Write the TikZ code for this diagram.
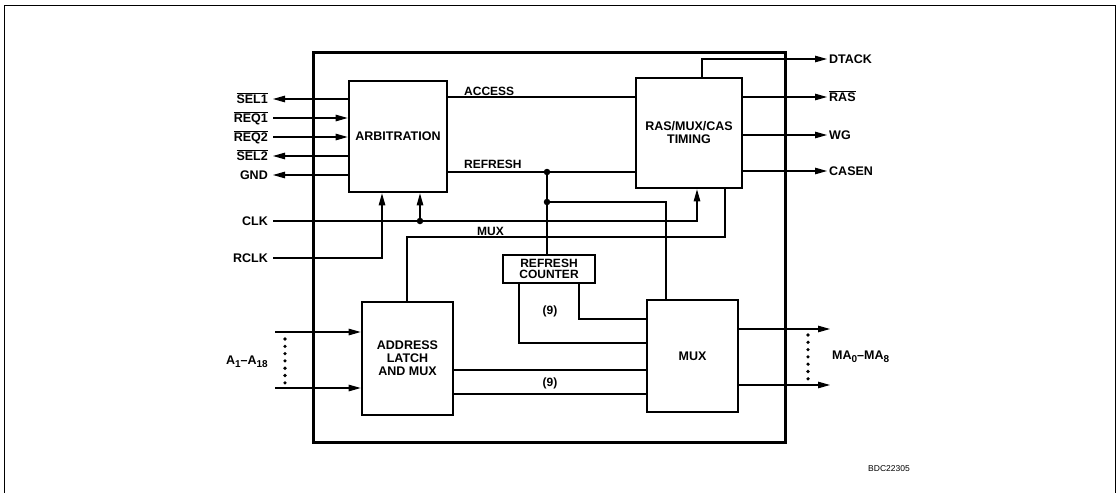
\documentclass[tikz,border=0pt]{standalone}
\usepackage{fontspec}
\setmainfont{Liberation Sans}
\usetikzlibrary{arrows.meta}
\begin{document}
\begin{tikzpicture}[x=1pt,y=-1pt,
  thin line/.style={line width=1.1pt},
  box/.style={draw,line width=2.6pt,inner sep=0pt,font=\bfseries\fontsize{12.5}{14}\selectfont,align=center},
  arr/.style={thin line,-{Triangle[length=12pt,width=6.5pt]}},
  sig/.style={inner sep=0pt,font=\bfseries\fontsize{12.5}{14}\selectfont,text height=9pt,text depth=0pt},
  lbl/.style={inner sep=0pt,font=\bfseries\fontsize{12}{13}\selectfont,text height=8.6pt,text depth=0pt},
  jdot/.style={circle,fill,inner sep=0pt,minimum size=6.5pt},
  sdot/.style={circle,fill,inner sep=0pt,minimum size=3.6pt}]
\useasboundingbox (0,0) rectangle (1120,493);
% outer frame
\draw[line width=1pt] (4,493) -- (4,5) -- (1115,5) -- (1115,493);
% chip
\node[draw,line width=3pt,minimum width=472pt,minimum height=390pt] (chip) at (549,247) {};
% blocks
\node[box,minimum width=98pt,minimum height=111pt] (arb) at (398,136.5) {ARBITRATION};
\node[box,minimum width=106pt,minimum height=110pt] (tim) at (689,133) {RAS/MUX/CAS\\[-1pt]TIMING};
\node[box,minimum width=91pt,minimum height=113pt] (addr) at (407.5,358.5) {ADDRESS\\[-1pt]LATCH\\[-1pt]AND MUX};
\node[box,minimum width=91pt,minimum height=112pt] (mux) at (692.5,356) {MUX};
\node[box,minimum width=92pt,minimum height=28pt,font=\bfseries\fontsize{12}{11.5}\selectfont] (rc) at (549,269) {REFRESH\\COUNTER};
% left signal ends
\coordinate (sel1) at (273,99);
\coordinate (req1) at (273,118);
\coordinate (req2) at (273,137);
\coordinate (sel2) at (273,156);
\coordinate (gnd) at (273,175);
\coordinate (clk) at (273,221);
\coordinate (rclk) at (273,258);
\coordinate (a1) at (275,332);
\coordinate (a2) at (275,388);
\node[sig,anchor=east] (lsel1) at (268,99) {$\overline{\mbox{SEL1}}$};
\node[sig,anchor=east] (lreq1) at (268,118) {$\overline{\mbox{REQ1}}$};
\node[sig,anchor=east] (lreq2) at (268,137) {$\overline{\mbox{REQ2}}$};
\node[sig,anchor=east] (lsel2) at (268,156) {$\overline{\mbox{SEL2}}$};
\node[sig,anchor=east] (lgnd) at (268,175) {GND};
\node[sig,anchor=east] (lclk) at (268,221) {CLK};
\node[sig,anchor=east] (lrclk) at (268,258) {RCLK};
\node[sig,anchor=east] (la) at (268,360) {A{\fontsize{10}{10}\selectfont\raisebox{-2.5pt}{1}}--A{\fontsize{10}{10}\selectfont\raisebox{-2.5pt}{18}}};
% arbitration I/O
\draw[arr] (arb.west |- sel1) -- (sel1);
\draw[arr] (req1) -- (arb.west |- req1);
\draw[arr] (req2) -- (arb.west |- req2);
\draw[arr] (arb.west |- sel2) -- (sel2);
\draw[arr] (arb.west |- gnd) -- (gnd);
% clocks
\coordinate (clkturn) at (697,221);
\node[jdot] (dclk) at (420,221) {};
\draw[arr] (clk) -- (clkturn) -- (tim.south -| clkturn);
\draw[arr] (dclk) -- (arb.south -| dclk);
\coordinate (rclkturn) at (382,258);
\draw[arr] (rclk) -- (rclkturn) -- (arb.south -| rclkturn);
% access / refresh
\coordinate (acc) at (0,97);
\coordinate (ref) at (0,172);
\draw[thin line] (arb.east |- acc) -- (tim.west |- acc);
\draw[thin line] (arb.east |- ref) -- (tim.west |- ref);
\node[lbl,anchor=base west] (lacc) at (464,95) {ACCESS};
\node[lbl,anchor=base west] (lref) at (464,168) {REFRESH};
\node[jdot] (d1) at (547,172) {};
\node[jdot] (d2) at (547,202) {};
\draw[thin line] (d1) -- (rc.north -| d1);
\coordinate (m1) at (666,202);
\draw[thin line] (d2) -- (m1) -- (mux.north -| m1);
% MUX control
\coordinate (mx1) at (725,237);
\coordinate (mx2) at (407,237);
\draw[thin line] (tim.south -| mx1) -- (mx1) -- (mx2) -- (addr.north -| mx2);
\node[lbl,anchor=base west] (lmux) at (477,235) {MUX};
% refresh counter to mux
\coordinate (r1) at (519,343);
\coordinate (r2) at (579,319);
\draw[thin line] (rc.south -| r1) -- (r1) -- (mux.west |- r1);
\draw[thin line] (rc.south -| r2) -- (r2) -- (mux.west |- r2);
\node[lbl] (n9a) at (550,310) {(9)};
% address latch to mux
\coordinate (b1) at (0,370);
\coordinate (b2) at (0,394);
\draw[thin line] (addr.east |- b1) -- (mux.west |- b1);
\draw[thin line] (addr.east |- b2) -- (mux.west |- b2);
\node[lbl] (n9b) at (550,382) {(9)};
% address inputs
\draw[arr] (a1) -- (addr.west |- a1);
\draw[arr] (a2) -- (addr.west |- a2);
\foreach \i in {0,...,6} \node[sdot] at (285,339+7.3*\i) {};
% mux outputs
\coordinate (o1) at (830,329);
\coordinate (o2) at (830,385);
\draw[arr] (mux.east |- o1) -- (o1);
\draw[arr] (mux.east |- o2) -- (o2);
\foreach \i in {0,...,6} \node[sdot] at (808,335+7.3*\i) {};
\node[sig,anchor=west] (lma) at (832,355) {MA{\fontsize{10}{10}\selectfont\raisebox{-2.5pt}{0}}--MA{\fontsize{10}{10}\selectfont\raisebox{-2.5pt}{8}}};
% timing outputs
\coordinate (dt) at (827,59);
\coordinate (ras) at (827,97);
\coordinate (wg) at (827,135);
\coordinate (casen) at (827,171);
\coordinate (dtturn) at (702,59);
\draw[arr] (tim.north -| dtturn) -- (dtturn) -- (dt);
\draw[arr] (tim.east |- ras) -- (ras);
\draw[arr] (tim.east |- wg) -- (wg);
\draw[arr] (tim.east |- casen) -- (casen);
\node[sig,anchor=west] (ldt) at (829,59) {DTACK};
\node[sig,anchor=west] (lras) at (829,97) {$\overline{\mbox{RAS}}$};
\node[sig,anchor=west] (lwg) at (829,135) {WG};
\node[sig,anchor=west] (lcasen) at (829,171) {CASEN};
% figure code
\node[inner sep=0pt,anchor=west,font=\fontsize{8.5}{9}\selectfont] (code) at (868,469) {BDC22305};
\end{tikzpicture}
\end{document}
